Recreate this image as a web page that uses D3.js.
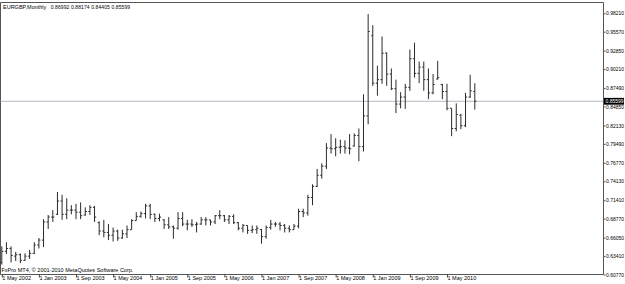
<!DOCTYPE html>
<html>
<head>
<meta charset="utf-8">
<script src="https://cdn.jsdelivr.net/npm/d3@7"></script>
<style>
  html, body { margin: 0; padding: 0; background: #fff; }
  svg { display: block; font-family: "Liberation Sans", Arial, sans-serif; }
  text { white-space: pre; }
</style>
</head>
<body>
<svg id="chart" width="625" height="284"></svg>
<script>
// ---- Data: EURGBP monthly OHLC, May 2002 .. Nov 2010 ----
const startMonth = new Date(2002, 4, 1);
const endMonth = new Date(2010, 11, 1);

const openVals = [0.625,0.641,0.645,0.634,0.636,0.628,0.634,0.638,0.650,0.657,0.683,0.690,0.694,0.713,0.694,0.700,0.700,0.697,0.693,0.698,
0.704,0.682,0.670,0.668,0.664,0.670,0.660,0.666,0.672,0.685,0.691,0.695,0.706,0.694,0.688,0.686,0.679,0.676,0.674,0.688,
0.680,0.680,0.679,0.680,0.686,0.686,0.683,0.692,0.692,0.686,0.691,0.682,0.674,0.678,0.671,0.672,0.672,0.662,0.675,0.680,
0.680,0.678,0.674,0.672,0.677,0.698,0.696,0.718,0.734,0.750,0.763,0.789,0.788,0.790,0.791,0.789,0.792,0.807,0.791,0.835,
0.950,0.882,0.887,0.925,0.895,0.874,0.852,0.862,0.876,0.917,0.896,0.905,0.887,0.868,0.888,0.880,0.870,0.846,0.817,0.836,
0.821,0.862,0.86992];
const highVals = [0.648,0.654,0.648,0.640,0.638,0.638,0.643,0.654,0.660,0.687,0.693,0.700,0.726,0.722,0.717,0.707,0.709,0.711,0.704,0.707,
0.706,0.684,0.686,0.680,0.675,0.672,0.672,0.678,0.687,0.697,0.698,0.709,0.709,0.695,0.695,0.687,0.690,0.678,0.697,0.697,
0.686,0.687,0.683,0.690,0.690,0.686,0.693,0.700,0.693,0.693,0.694,0.683,0.680,0.678,0.678,0.678,0.673,0.678,0.686,0.683,
0.683,0.680,0.678,0.680,0.702,0.702,0.722,0.737,0.759,0.767,0.796,0.809,0.803,0.801,0.800,0.809,0.810,0.817,0.866,0.981,
0.965,0.907,0.949,0.926,0.903,0.887,0.869,0.881,0.930,0.940,0.913,0.913,0.903,0.895,0.914,0.881,0.881,0.846,0.853,0.838,
0.868,0.894,0.88174];
const lowVals = [0.622,0.637,0.625,0.627,0.624,0.627,0.630,0.637,0.645,0.647,0.673,0.683,0.693,0.686,0.687,0.694,0.687,0.687,0.692,0.693,
0.683,0.664,0.661,0.657,0.655,0.656,0.659,0.660,0.672,0.685,0.689,0.688,0.687,0.683,0.684,0.673,0.673,0.659,0.672,0.677,
0.671,0.676,0.668,0.679,0.678,0.678,0.680,0.687,0.683,0.680,0.680,0.671,0.668,0.666,0.667,0.666,0.652,0.659,0.672,0.676,
0.671,0.668,0.668,0.672,0.674,0.690,0.692,0.707,0.733,0.745,0.759,0.781,0.777,0.781,0.781,0.780,0.791,0.770,0.784,0.823,
0.878,0.864,0.881,0.878,0.872,0.839,0.846,0.845,0.871,0.890,0.882,0.871,0.859,0.866,0.887,0.859,0.843,0.806,0.813,0.816,
0.819,0.861,0.84405];
const closeVals = [0.641,0.645,0.635,0.636,0.628,0.634,0.638,0.650,0.657,0.683,0.690,0.690,0.713,0.694,0.700,0.700,0.697,0.692,0.698,0.704,
0.690,0.670,0.668,0.664,0.670,0.660,0.666,0.672,0.685,0.691,0.695,0.706,0.694,0.688,0.690,0.679,0.676,0.674,0.688,0.680,
0.680,0.679,0.680,0.686,0.686,0.683,0.692,0.692,0.686,0.691,0.682,0.674,0.678,0.671,0.672,0.674,0.662,0.675,0.680,0.680,
0.678,0.674,0.672,0.677,0.698,0.696,0.718,0.734,0.750,0.763,0.789,0.788,0.790,0.791,0.789,0.788,0.807,0.791,0.835,0.956,
0.882,0.887,0.925,0.895,0.874,0.852,0.862,0.876,0.917,0.896,0.905,0.887,0.868,0.880,0.890,0.870,0.846,0.817,0.837,0.821,
0.862,0.871,0.85599];

const priceTicks = [0.98210,0.95570,0.92850,0.90210,0.87490,0.84850,0.82130,0.79490,0.76770,0.74130,0.71410,0.68770,0.66050,0.63410,0.60770];
const dateTickLabels = ["1 May 2002","1 Jan 2003","1 Sep 2003","1 May 2004","1 Jan 2005","1 Sep 2005","1 May 2006","1 Jan 2007","1 Sep 2007","1 May 2008","1 Jan 2009","1 Sep 2009","1 May 2010"];
const dateTickIndex = [0,8,16,24,32,40,48,56,64,72,80,88,96];

const symbolTitle = "EURGBP,Monthly";
const lastPrice = 0.85599;
const copyright = "FxPro MT4, \u00A9 2001-2010 MetaQuotes Software Corp.";

// ---- Layout ----
const months = d3.timeMonth.range(startMonth, endMonth);
const bars = months.map((m, i) => ({i, o: openVals[i], h: highVals[i], l: lowVals[i], c: closeVals[i]}));

const svg = d3.select("#chart");
const plotRight = 603, plotTop = 2, plotBottom = 274.5;
const fs = 5.5, fsNum = 5.0;
const fmt = d3.format(".5f");

const x = d3.scaleLinear().domain([0, months.length - 1]).range([1.8, 474.8]);
const y = d3.scaleLinear().domain([0.60770, 0.98210]).range([274.5, 13.3]);

// frame
svg.append("path")
  .attr("d", `M0.5,${plotBottom}V${plotTop + 0.5}H${plotRight + 0.5}V${plotBottom}H0.5`)
  .attr("fill", "none").attr("stroke", "#555").attr("stroke-width", 1);

// price line
svg.append("line")
  .attr("x1", 0.5).attr("x2", plotRight)
  .attr("y1", y(lastPrice)).attr("y2", y(lastPrice))
  .attr("stroke", "#b4b8c4").attr("stroke-width", 1);

// OHLC bars
const g = svg.append("g").attr("stroke", "#2a2a2a").attr("stroke-width", 1);
g.selectAll("line.hl").data(bars).join("line").attr("class", "hl")
  .attr("x1", d => x(d.i)).attr("x2", d => x(d.i))
  .attr("y1", d => y(d.h)).attr("y2", d => y(d.l));
g.selectAll("line.op").data(bars).join("line").attr("class", "op")
  .attr("x1", d => x(d.i) - 1.6).attr("x2", d => x(d.i))
  .attr("y1", d => y(d.o)).attr("y2", d => y(d.o));
g.selectAll("line.cl").data(bars).join("line").attr("class", "cl")
  .attr("x1", d => x(d.i)).attr("x2", d => x(d.i) + 1.6)
  .attr("y1", d => y(d.c)).attr("y2", d => y(d.c));

// right price axis
const yAxis = d3.axisRight(y).tickValues(priceTicks).tickSize(2).tickPadding(0.5).tickFormat(fmt);
const ya = svg.append("g").attr("transform", `translate(${plotRight + 0.5},0)`).call(yAxis);
ya.select(".domain").remove();
ya.selectAll("text").attr("font-size", fsNum).attr("font-family", "Liberation Sans, Arial, sans-serif").attr("fill", "#000");
ya.selectAll("line").attr("stroke", "#555");

// last price box
const lp = svg.append("g").attr("transform", `translate(${plotRight + 1},${y(lastPrice)})`);
lp.append("rect").attr("x", 0).attr("y", -3.4).attr("width", 20).attr("height", 6.8).attr("fill", "#000");
lp.append("text").attr("x", 1.5).attr("y", 0).attr("dy", "0.34em")
  .attr("font-size", fsNum).attr("fill", "#fff").text(fmt(lastPrice));

// bottom date axis
const xAxis = d3.axisBottom(x).tickValues(dateTickIndex).tickSize(3).tickPadding(0)
  .tickFormat((d, k) => dateTickLabels[k]);
const xa = svg.append("g").attr("transform", `translate(0,${plotBottom})`).call(xAxis);
xa.select(".domain").remove();
xa.selectAll("line").attr("stroke", "#444");
xa.selectAll("text").attr("text-anchor", "start").attr("font-size", fs)
  .attr("font-family", "Liberation Sans, Arial, sans-serif").attr("fill", "#000")
  .attr("x", 0).attr("dy", "0.55em").attr("y", 2.5);

// header + footer
svg.append("text").attr("x", 3).attr("y", 8.5).attr("font-size", fs).attr("fill", "#000").text(symbolTitle);
svg.append("text").attr("x", 50.7).attr("y", 8.5).attr("font-size", fsNum).attr("fill", "#000")
  .attr("letter-spacing", 0.1)
  .text([openVals, highVals, lowVals, closeVals].map(a => fmt(a[a.length - 1])).join(" "));
svg.append("text").attr("x", 1.5).attr("y", 271.5).attr("font-size", fs).attr("fill", "#000")
  .text(copyright);
</script>
</body>
</html>
